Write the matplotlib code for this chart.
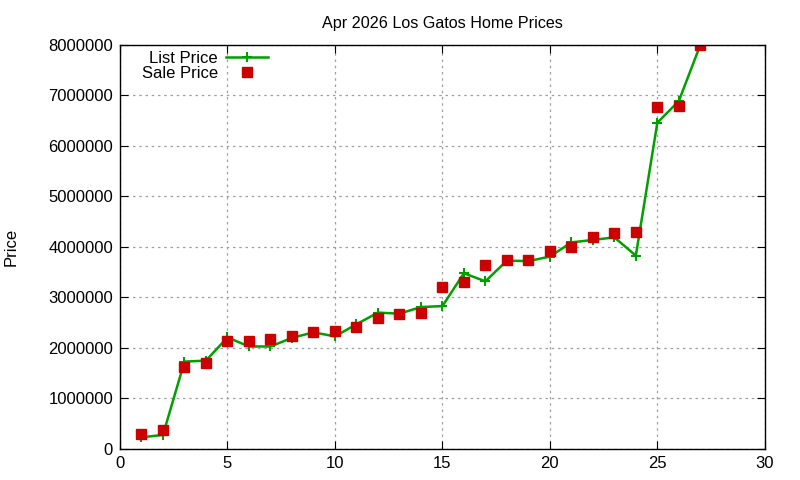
import matplotlib.pyplot as plt
from matplotlib.ticker import MultipleLocator

plt.rcParams['font.family'] = ['Liberation Sans', 'DejaVu Sans']

x = list(range(1, 28))
list_price = [230000, 280000, 1730000, 1750000, 2210000, 2030000, 2030000, 2200000, 2310000,
              2230000, 2470000, 2700000, 2680000, 2810000, 2830000, 3480000, 3320000, 3730000,
              3720000, 3810000, 4090000, 4140000, 4190000, 3830000, 6460000, 6890000, 8000000]
sale_price = [290000, 367000, 1630000, 1710000, 2130000, 2140000, 2180000, 2230000, 2320000,
              2340000, 2410000, 2590000, 2680000, 2690000, 3210000, 3300000, 3640000, 3740000,
              3740000, 3930000, 3990000, 4190000, 4280000, 4290000, 6770000, 6800000, 8000000]

fig = plt.figure(figsize=(8, 4.8), dpi=100)
ax = fig.add_axes((0.15, 0.0646, 0.806, 0.8417))

ax.plot(x, list_price, color='#00a000', lw=1.8, marker='+', ms=7.5, mew=1.5, label='List Price')
ax.plot(x, sale_price, ls='none', marker='s', ms=6.5, color='#cc0000', label='Sale Price')

ax.set_xlim(0, 30)
ax.set_ylim(0, 8000000)
ax.xaxis.set_major_locator(MultipleLocator(5))
ax.yaxis.set_major_locator(MultipleLocator(1000000))
ax.ticklabel_format(axis='y', style='plain', useOffset=False)
ax.tick_params(direction='in', top=True, right=True, length=6, labelsize=12, pad=5)
ax.grid(True, color='#a0a0a0', ls=(0, (2, 3)), lw=0.9)
for s in ax.spines.values():
    s.set_linewidth(1.0)

ax.set_title('Apr 2026 Los Gatos Home Prices', fontsize=11.6, pad=12)
ax.set_ylabel('Price', fontsize=12)
ax.yaxis.set_label_coords(-0.157, 0.5)

ax.legend(loc='upper left', bbox_to_anchor=(0.018, 1.01), frameon=False, markerfirst=False,
          fontsize=12, handlelength=2.5, labelspacing=0.0, borderaxespad=0.2, handletextpad=0.5)

plt.savefig('out.png')
